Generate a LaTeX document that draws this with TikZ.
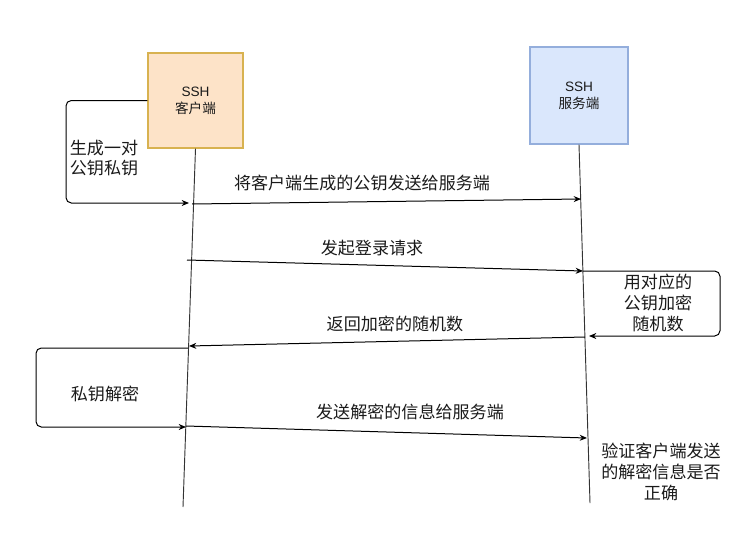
\documentclass[tikz,border=0pt]{standalone}
\usepackage{fontspec}
\setmainfont{Noto Sans CJK SC}
\newfontfamily\latfont{Liberation Sans}
\usetikzlibrary{arrows.meta}
\definecolor{cfill}{HTML}{FDE3C8}
\definecolor{cdraw}{HTML}{D8B250}
\definecolor{sfill}{HTML}{DAE7FC}
\definecolor{sdraw}{HTML}{94AEDC}
\definecolor{txt}{HTML}{1A1A1A}
\begin{document}
\begin{tikzpicture}[x=0.75pt,y=-0.75pt,
  actor/.style={draw, line width=0.8pt, minimum width=71.25pt, minimum height=71.25pt, inner sep=0pt, align=center, text=txt, font=\fontsize{10.2}{12.8}\selectfont},
  life/.style={draw=black!80, line width=0.7pt},
  msg/.style={draw=black, line width=0.75pt, -{Stealth[length=5.5pt,width=4.5pt]}},
  selfmsg/.style={msg, rounded corners=4pt},
  lbl/.style={text=txt, inner sep=0pt, align=center, font=\fontsize{12.8}{15.4}\selectfont}
]
\useasboundingbox (0,0) rectangle (752,535);

% actors
\node[actor, fill=cfill, draw=cdraw] (client) at (195.5,100.5) {{\latfont SSH}\\客户端};
\node[actor, fill=sfill, draw=sdraw, minimum width=73.5pt, minimum height=72.75pt] (server) at (579,95.5) {{\latfont SSH}\\服务端};

% lifelines
\coordinate (cend) at (183,507);
\coordinate (send) at (590,503);
\draw[life] (client.south) -- (cend);
\draw[life] (server.south) -- (send);

% message points
\coordinate (c1) at (192,204);
\coordinate (s1) at (581,199);
\coordinate (c2) at (187,260);
\coordinate (s2) at (583,271);
\coordinate (s3) at (585,337);
\coordinate (c3) at (189,346);
\coordinate (c4) at (186,426);
\coordinate (s4) at (587,438);
\coordinate (l1end) at (189,203);
\coordinate (l2end) at (589,336);
\coordinate (l3start) at (188,348);
\coordinate (l3end) at (186,427);

% self message 1
\draw[selfmsg] (client.west) -- (66,100.5) -- (66,203) -- (l1end);
\node[lbl, align=left] (t1) at (104,158) {生成一对\\公钥私钥};

% message 1
\draw[msg] (c1) -- (s1);
\node[lbl] (m1) at (362,183) {将客户端生成的公钥发送给服务端};

% message 2
\draw[msg] (c2) -- (s2);
\node[lbl] (m2) at (372,248) {发起登录请求};

% self message 2
\draw[selfmsg] (s2) -- (720,271) -- (720,336) -- (l2end);
\node[lbl] (t2) at (658,303) {用对应的\\公钥加密\\随机数};

% message 3
\draw[msg] (s3) -- (c3);
\node[lbl] (m3) at (395,324) {返回加密的随机数};

% self message 3
\draw[selfmsg] (l3start) -- (36,348) -- (36,427) -- (l3end);
\node[lbl] (t3) at (105,394) {私钥解密};

% message 4
\draw[msg] (c4) -- (s4);
\node[lbl] (m4) at (410,412) {发送解密的信息给服务端};

% verify note
\node[lbl, font=\fontsize{12.8}{15.8}\selectfont] (t4) at (661,472) {验证客户端发送\\的解密信息是否\\正确};
\end{tikzpicture}
\end{document}
